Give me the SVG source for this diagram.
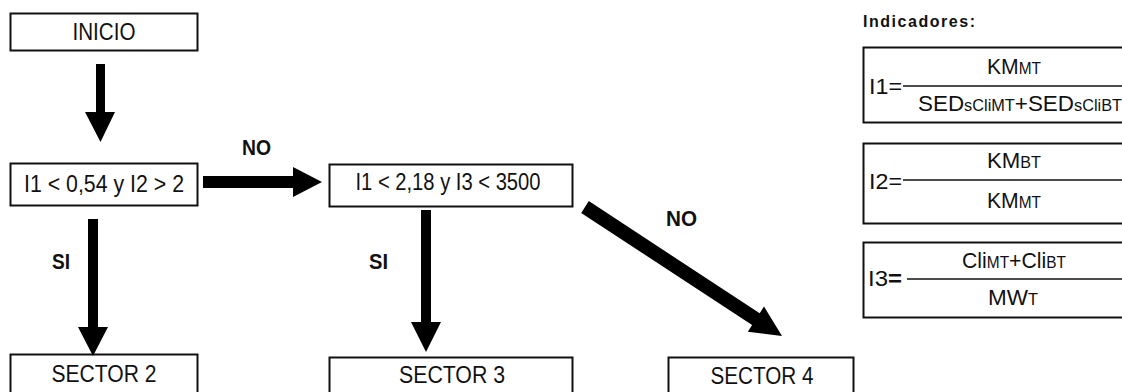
<svg xmlns="http://www.w3.org/2000/svg" width="1122" height="392" viewBox="0 0 1122 392">
<style>
.box{fill:#fff;stroke:#111;stroke-width:2}
.t{font-family:"Liberation Sans",Arial,sans-serif;font-size:23px;fill:#111;text-anchor:middle}
.lb{font-family:"Liberation Sans",Arial,sans-serif;font-size:22px;font-weight:bold;fill:#111}
.f{font-family:"Liberation Sans",Arial,sans-serif;font-size:22px;fill:#111}
.s{font-size:16px}
.arrow{fill:#000}
.fl{stroke:#111;stroke-width:1.5}
</style>
<rect width="1122" height="392" fill="#fff"/>
<g id="inicio"><rect class="box" x="10.5" y="13.5" width="187" height="37"/><text class="t" x="104" y="40" textLength="63" lengthAdjust="spacingAndGlyphs">INICIO</text></g>
<g id="cond1"><rect class="box" x="10.5" y="163.5" width="187" height="42"/><text class="t" x="104" y="192" textLength="160" lengthAdjust="spacingAndGlyphs">I1 &lt; 0,54 y I2 &gt; 2</text></g>
<g id="cond2"><rect class="box" x="329.5" y="164.5" width="243" height="42"/><text class="t" x="448" y="190" textLength="185" lengthAdjust="spacingAndGlyphs">I1 &lt; 2,18 y I3 &lt; 3500</text></g>
<g id="sector2"><rect class="box" x="10.5" y="354.5" width="187" height="45"/><text class="t" x="104" y="382" textLength="105" lengthAdjust="spacingAndGlyphs">SECTOR 2</text></g>
<g id="sector3"><rect class="box" x="329.5" y="357.5" width="243" height="45"/><text class="t" x="452" y="383" textLength="106" lengthAdjust="spacingAndGlyphs">SECTOR 3</text></g>
<g id="sector4"><rect class="box" x="668.5" y="357.5" width="185" height="45"/><text class="t" x="762" y="384" textLength="103" lengthAdjust="spacingAndGlyphs">SECTOR 4</text></g>
<g id="connectors">
<polygon class="arrow" points="96,64 105,64 105,112 115,112 100.5,142 85,112 96,112"/>
<polygon class="arrow" points="203,176 293,176 293,167 322,182 293,197 293,188 203,188"/>
<polygon class="arrow" points="88,219 98,219 98,327 108,327 93,356 78,327 88,327"/>
<polygon class="arrow" points="421,210 431,210 431,322 441,322 426,352 411,322 421,322"/>
<polygon class="arrow" points="588.8,201.1 759.7,313.3 764,306.6 782,336 747.8,331.8 752.1,325.1 581.2,212.9"/>
<text class="lb" x="242" y="155" textLength="29" lengthAdjust="spacingAndGlyphs">NO</text>
<text class="lb" x="666" y="226" textLength="31" lengthAdjust="spacingAndGlyphs">NO</text>
<text class="lb" x="52" y="269" textLength="18" lengthAdjust="spacingAndGlyphs">SI</text>
<text class="lb" x="369" y="269" textLength="19" lengthAdjust="spacingAndGlyphs">SI</text>
</g>
<g id="indicadores">
<text x="863" y="27" font-family="'Liberation Sans',Arial,sans-serif" font-size="16" font-weight="bold" fill="#111" textLength="112" lengthAdjust="spacing">Indicadores:</text>
</g>
<g id="i1">
<rect class="box" x="863.5" y="47.5" width="270" height="75"/>
<text class="f" x="869" y="94" textLength="33" lengthAdjust="spacingAndGlyphs">I1=</text>
<line class="fl" x1="903" y1="86" x2="1122" y2="86"/>
<text class="f" x="1014" y="74" text-anchor="middle" textLength="54" lengthAdjust="spacingAndGlyphs">KM<tspan class="s">MT</tspan></text>
<text class="f" x="918" y="111" textLength="204" lengthAdjust="spacingAndGlyphs">SED<tspan class="s">sCliMT</tspan>+SED<tspan class="s">sCliBT</tspan></text>
</g>
<g id="i2">
<rect class="box" x="863.5" y="143.5" width="270" height="80"/>
<text class="f" x="869" y="189" textLength="33" lengthAdjust="spacingAndGlyphs">I2=</text>
<line class="fl" x1="903" y1="180" x2="1122" y2="180"/>
<text class="f" x="1014" y="168" text-anchor="middle" textLength="54" lengthAdjust="spacingAndGlyphs">KM<tspan class="s">BT</tspan></text>
<text class="f" x="1014" y="208" text-anchor="middle" textLength="54" lengthAdjust="spacingAndGlyphs">KM<tspan class="s">MT</tspan></text>
</g>
<g id="i3">
<rect class="box" x="863.5" y="242.5" width="270" height="75"/>
<text class="f" x="868" y="286" textLength="34" lengthAdjust="spacingAndGlyphs">I3<tspan font-weight="bold">=</tspan></text>
<line class="fl" x1="907" y1="279" x2="1122" y2="279"/>
<text class="f" x="1014" y="268" text-anchor="middle" textLength="104" lengthAdjust="spacingAndGlyphs">Cli<tspan class="s">MT</tspan>+Cli<tspan class="s">BT</tspan></text>
<text class="f" x="1013" y="305" text-anchor="middle" textLength="50" lengthAdjust="spacingAndGlyphs">MW<tspan class="s">T</tspan></text>
</g>
</svg>
